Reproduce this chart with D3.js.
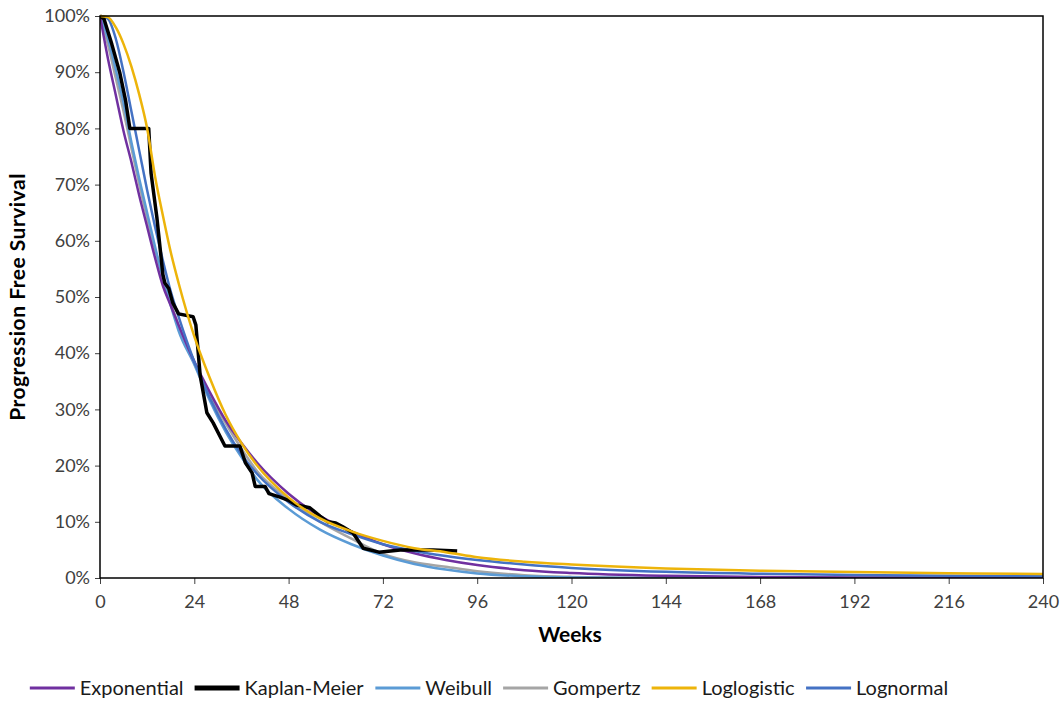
<!DOCTYPE html>
<html>
<head>
<meta charset="utf-8">
<script src="https://cdn.jsdelivr.net/npm/d3@7"></script>
<style>
  html, body { margin: 0; padding: 0; background: #fff; }
  svg { display: block; }
  text { font-family: Lato, "Noto Sans", sans-serif; }
</style>
</head>
<body>
<svg id="chart" width="1061" height="704"></svg>
<script>
// ---- Data ----
const weeks = [0, 2, 4, 6, 8, 10, 12, 14, 16, 18, 20, 24, 28, 32, 36, 40, 48, 56, 64, 72, 80, 88, 96, 108, 120, 144, 168, 192, 216, 240];

const exponential = [100, 92.5, 86, 79.5, 74, 68, 62.5, 57, 52, 48.5, 45, 38.5, 33, 28, 24, 20.5, 15, 11, 8.3, 6, 4.4, 3.2, 2.3, 1.4, 0.9, 0.4, 0.2, 0.1, 0.05, 0];
const weibull     = [100, 96, 90.5, 84.5, 77.5, 71, 65, 59, 53.5, 48.5, 44, 38, 31.5, 26, 21.5, 17.5, 12.3, 8.6, 6, 4, 2.5, 1.5, 0.8, 0.3, 0.1, 0, 0, 0, 0, 0];
const gompertz    = [100, 95, 89, 83, 76.5, 70, 64, 58.5, 53.5, 49, 45, 38.5, 32.5, 27.5, 23, 19, 14, 10, 7, 4.3, 2.8, 2, 1.2, 0.5, 0.2, 0, 0, 0, 0, 0];
const loglogistic = [100, 99.8, 98, 95, 91, 86, 80, 71.5, 64.5, 58, 52.5, 43, 35.5, 29, 24, 20, 14.3, 10.6, 8.3, 6.6, 5.3, 4.6, 3.7, 2.9, 2.4, 1.7, 1.3, 1.05, 0.85, 0.7];
const lognormal   = [100, 99.5, 96, 90, 83, 76, 69, 62.5, 56.5, 51, 46.5, 38.5, 32, 26.5, 22, 18.5, 13.5, 10, 7.8, 6, 4.8, 3.9, 3.2, 2.4, 1.8, 1.1, 0.75, 0.55, 0.4, 0.3];

// Kaplan-Meier step points [week, %]
const kmWeeks = [0, 1, 3, 5, 6.5, 7.6, 12.4, 13, 14.5, 16, 16.5, 17.5, 18.5, 20, 23.7, 24.4, 25.5, 27.2, 28.8, 31.8, 35.6, 37, 38.7, 39.5, 42, 43, 45.8, 48, 50, 53.4, 56, 58, 60, 61.8, 64.4, 67, 71, 76.4, 84.8, 90.9];
const kmValues = [100, 99.5, 95, 90, 85, 80, 80, 72, 64, 54, 52.5, 51.5, 49, 47, 46.5, 45, 36, 29.4, 27.6, 23.5, 23.5, 20.5, 18.7, 16.3, 16.3, 15, 14.4, 13.8, 13, 12.5, 11, 10, 9.8, 9.1, 8, 5.3, 4.6, 5, 5, 4.8];

const xTicks = [0, 24, 48, 72, 96, 120, 144, 168, 192, 216, 240];
const yTicks = [0, 10, 20, 30, 40, 50, 60, 70, 80, 90, 100];

const seriesNames = ["Exponential", "Kaplan-Meier", "Weibull", "Gompertz", "Loglogistic", "Lognormal"];
const seriesColors = ["#7030A0", "#000000", "#5B9BD5", "#A5A5A5", "#EDB40A", "#4472C4"];

// ---- Layout ----
const svg = d3.select("#chart");
const plot = { left: 100, right: 1043, top: 16, bottom: 578 };

const x = d3.scaleLinear().domain([0, 240]).range([plot.left, plot.right]);
const y = d3.scaleLinear().domain([0, 100]).range([plot.bottom, plot.top]);

svg.append("defs").append("clipPath").attr("id", "clip")
  .append("rect").attr("x", plot.left).attr("y", plot.top - 2)
  .attr("width", plot.right - plot.left).attr("height", plot.bottom - plot.top + 2);

// Axes
const xAxis = d3.axisBottom(x).tickValues(xTicks).tickSize(6).tickPadding(11).tickFormat(d3.format("d"));
const yAxis = d3.axisLeft(y).tickValues(yTicks).tickSize(5).tickPadding(5).tickFormat(d => d + "%");

const gx = svg.append("g").attr("transform", `translate(0,${plot.bottom})`).call(xAxis);
const gy = svg.append("g").attr("transform", `translate(${plot.left},0)`).call(yAxis);
[gx, gy].forEach(g => {
  g.select(".domain").remove();
  g.selectAll(".tick line").attr("stroke", "#404040").attr("stroke-width", 1);
  g.selectAll(".tick text").attr("fill", "#404040").style("font-size", "18px").style("font-family", "Lato, sans-serif");
});

// Curves
const line = d3.line().x(d => x(d[0])).y(d => y(d[1])).curve(d3.curveMonotoneX);
const kmLine = d3.line().x(d => x(d[0])).y(d => y(d[1])).curve(d3.curveLinear);

const curves = [
  { name: "Gompertz", data: gompertz, color: seriesColors[3] },
  { name: "Weibull", data: weibull, color: seriesColors[2] },
  { name: "Exponential", data: exponential, color: seriesColors[0] },
  { name: "Lognormal", data: lognormal, color: seriesColors[5] },
];
const g = svg.append("g").attr("clip-path", "url(#clip)");

curves.forEach(c => {
  g.append("path")
    .datum(weeks.map((w, i) => [w, c.data[i]]))
    .attr("fill", "none").attr("stroke", c.color).attr("stroke-width", 2.5)
    .attr("d", line);
});

g.append("path")
  .datum(kmWeeks.map((w, i) => [w, kmValues[i]]))
  .attr("fill", "none").attr("stroke", seriesColors[1]).attr("stroke-width", 3.5)
  .attr("stroke-linejoin", "round")
  .attr("d", kmLine);

g.append("path")
  .datum(weeks.map((w, i) => [w, loglogistic[i]]))
  .attr("fill", "none").attr("stroke", seriesColors[4]).attr("stroke-width", 2.5)
  .attr("d", line);

// Plot frame
svg.append("rect")
  .attr("x", plot.left).attr("y", plot.top)
  .attr("width", plot.right - plot.left).attr("height", plot.bottom - plot.top)
  .attr("fill", "none").attr("stroke", "#000").attr("stroke-width", 1.5);

// Axis titles
svg.append("text")
  .attr("x", 570).attr("y", 642)
  .attr("text-anchor", "middle")
  .style("font-size", "21px").style("font-weight", "bold").attr("fill", "#000")
  .text("Weeks");

svg.append("text")
  .attr("transform", `translate(25,297) rotate(-90)`)
  .attr("text-anchor", "middle")
  .style("font-size", "21px").style("font-weight", "bold")
  .style("letter-spacing", "0.5px").attr("fill", "#000")
  .text("Progression Free Survival");

// Legend
const legend = svg.append("g");
const swatch = 45, gapS = 5, gapItem = 11, legY = 688;
const items = legend.selectAll("g").data(seriesNames).join("g");
items.append("line")
  .attr("x1", 0).attr("x2", swatch).attr("y1", 0).attr("y2", 0)
  .attr("stroke", (d, i) => seriesColors[i])
  .attr("stroke-width", (d, i) => i === 1 ? 5 : 3);
items.append("text")
  .attr("x", swatch + gapS).attr("y", 0).attr("dy", "0.35em")
  .style("font-size", "20px").attr("fill", "#1a1a1a")
  .text(d => d);
let widths = [];
items.each(function () { widths.push(this.getBBox().width); });
const total = d3.sum(widths) + gapItem * (widths.length - 1);
let cx = 489 - total / 2;
items.attr("transform", (d, i) => {
  const t = `translate(${cx},${legY})`;
  cx += widths[i] + gapItem;
  return t;
});
</script>
</body>
</html>
